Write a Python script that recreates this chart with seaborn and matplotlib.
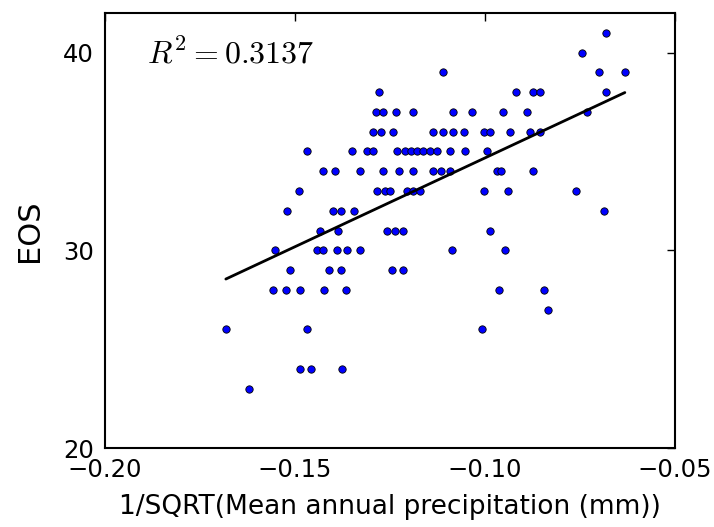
import matplotlib
matplotlib.use("Agg")
import matplotlib.pyplot as plt
import seaborn as sns
import pandas as pd

# Data
precip = [
    -0.0682,
    -0.0745,
    -0.1111, -0.0700, -0.0632,
    -0.1279, -0.0918, -0.0874, -0.0855, -0.0682,
    -0.1287, -0.1268, -0.1234, -0.1189, -0.1084, -0.1034, -0.0953, -0.0889, -0.0732,
    -0.1295, -0.1274, -0.1242, -0.1137, -0.1111, -0.1084, -0.1055, -0.1003, -0.0987, -0.0934, -0.0882, -0.0855,
    -0.1468, -0.1350, -0.1311, -0.1295, -0.1232, -0.1211, -0.1195, -0.1179, -0.1163, -0.1145, -0.1126, -0.1092, -0.1053, -0.0995,
    -0.1426, -0.1395, -0.1329, -0.1268, -0.1226, -0.1189, -0.1137, -0.1116, -0.1092, -0.0968, -0.0958, -0.0874,
    -0.1489, -0.1284, -0.1263, -0.1250, -0.1205, -0.1189, -0.1171, -0.1003, -0.0939, -0.0761,
    -0.1521, -0.1400, -0.1379, -0.1345, -0.0687,
    -0.1434, -0.1387, -0.1258, -0.1237, -0.1216, -0.0987,
    -0.1553, -0.1442, -0.1426, -0.1389, -0.1363, -0.1329, -0.1087, -0.0947,
    -0.1513, -0.1411, -0.1379, -0.1245, -0.1216,
    -0.1558, -0.1524, -0.1487, -0.1424, -0.1366, -0.0963, -0.0845,
    -0.0834,
    -0.1682, -0.1468, -0.1008,
    -0.1487, -0.1458, -0.1376,
    -0.1621,
]
eos = (
    [41] * 1 + [40] * 1 + [39] * 3 + [38] * 5 + [37] * 9 + [36] * 12 + [35] * 14
    + [34] * 12 + [33] * 10 + [32] * 5 + [31] * 6 + [30] * 8 + [29] * 5 + [28] * 7
    + [27] * 1 + [26] * 3 + [24] * 3 + [23] * 1
)
r2_label = r"$R^2 = 0.3137$"
x_label = "1/SQRT(Mean annual precipitation (mm))"
y_label = "EOS"
x_ticks = [-0.20, -0.15, -0.10, -0.05]
x_ticklabels = ["\u22120.20", "\u22120.15", "\u22120.10", "\u22120.05"]
y_ticks = [20, 30, 40]

df = pd.DataFrame({"precip": precip, "eos": eos})

sns.set_style("white")
plt.rcParams["font.family"] = ["DejaVu Sans"]
plt.rcParams["mathtext.fontset"] = "cm"
plt.rcParams["text.color"] = "black"
plt.rcParams["axes.labelcolor"] = "black"

fig = plt.figure(figsize=(7.14, 5.27), dpi=100)
ax = fig.add_axes([105 / 714, 1 - 448 / 527, 570 / 714, 435 / 527])

sns.scatterplot(data=df, x="precip", y="eos", ax=ax, color="blue",
                edgecolor="black", linewidth=0.6, s=28, zorder=3)
sns.regplot(data=df, x="precip", y="eos", ax=ax, scatter=False, ci=None,
            truncate=True, line_kws={"color": "black", "linewidth": 2, "zorder": 4})

ax.set_xlim(-0.20, -0.05)
ax.set_ylim(20, 42)
ax.set_xticks(x_ticks)
ax.set_xticklabels(x_ticklabels)
ax.set_yticks(y_ticks)
ax.tick_params(direction="in", length=6, width=1, top=True, right=True,
               labelsize=17.5, colors="black")
ax.tick_params(axis="y", pad=8)
ax.tick_params(axis="x", pad=7)
for sp in ax.spines.values():
    sp.set_visible(True)
    sp.set_color("black")
    sp.set_linewidth(1.5)

ax.set_xlabel(x_label, fontsize=19, labelpad=9, color="black")
ax.set_ylabel(y_label, fontsize=22, labelpad=14, color="black")

ax.text(0.074, 0.885, r2_label, transform=ax.transAxes, fontsize=23,
        va="baseline", ha="left", color="black")

fig.savefig("out.png", dpi=100)
